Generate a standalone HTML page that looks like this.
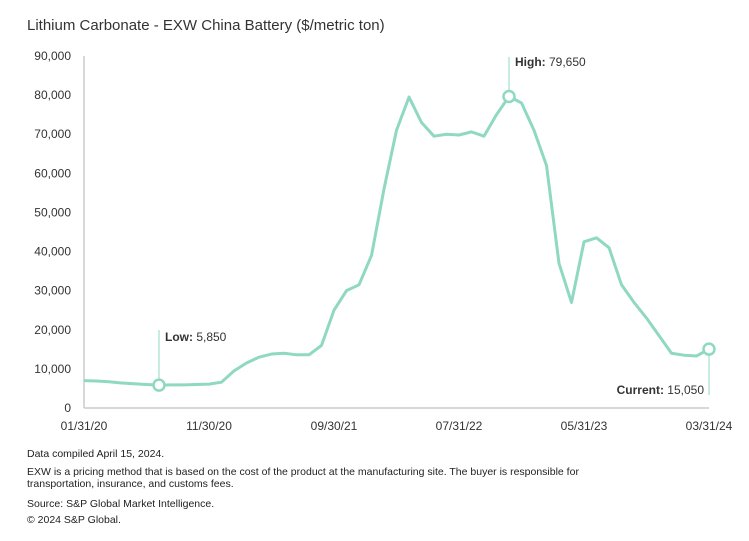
<!DOCTYPE html>
<html><head><meta charset="utf-8"><style>
body{margin:0;background:#fff;font-family:"Liberation Sans",sans-serif;color:#222}
#wrap{position:relative;width:749px;height:541px;overflow:hidden}
.title{position:absolute;left:27px;top:17px;font-size:15px;color:#333}
.foot{position:absolute;left:27px;font-size:10.5px;color:#222;line-height:12px}
</style></head><body><div id="wrap">
<div class="title">Lithium Carbonate - EXW China Battery ($/metric ton)</div>
<svg id="c" width="749" height="541" style="position:absolute;left:0;top:0"></svg>
<div class="foot" style="top:448px">Data compiled April 15, 2024.</div>
<div class="foot" style="top:466px">EXW is a pricing method that is based on the cost of the product at the manufacturing site. The buyer is responsible for<br>transportation, insurance, and customs fees.</div>
<div class="foot" style="top:498px">Source: S&amp;P Global Market Intelligence.</div>
<div class="foot" style="top:514px">© 2024 S&amp;P Global.</div>
</div>
<script>
const prices=[7000,6900,6700,6400,6200,6000,5850,5900,5900,6000,6100,6600,9500,11500,13000,13800,14000,13600,13600,16000,25000,30000,31500,39000,56000,71000,79500,73000,69500,70000,69800,70600,69500,75000,79650,78000,71000,62000,37000,27000,42500,43500,41000,31500,27000,23000,18500,14000,13500,13300,15050];
const yTicks=[0,10000,20000,30000,40000,50000,60000,70000,80000,90000];
const xTickIdx=[0,10,20,30,40,50];
const xTickLabels=["01/31/20","11/30/20","09/30/21","07/31/22","05/31/23","03/31/24"];
const annotations=[{i:6,label:"Low:",val:"5,850"},{i:34,label:"High:",val:"79,650"},{i:50,label:"Current:",val:"15,050"}];
const NS="http://www.w3.org/2000/svg",svg=document.getElementById('c');
const X0=84,X1=709,Y0=408,Y1=56;
const x=i=>X0+(X1-X0)*i/(prices.length-1);
const y=v=>Y0-(Y0-Y1)*v/90000;
function el(t,a,txt){const e=document.createElementNS(NS,t);for(const k in a)e.setAttribute(k,a[k]);if(txt!=null)e.textContent=txt;svg.appendChild(e);return e;}
let e=el('line',{x1:X0,y1:Y1,x2:X0,y2:Y0,stroke:'#ccc','stroke-width':1.5});

e=el('line',{x1:X0,y1:Y0,x2:X1,y2:Y0,stroke:'#ccc','stroke-width':1.5});

yTicks.forEach(v=>{const t=el('text',{x:71,y:y(v)+4,'text-anchor':'end','font-size':12,fill:'#333'},v.toLocaleString('en-US'));
});
xTickIdx.forEach((i,k)=>{const t=el('text',{x:x(i),y:430,'text-anchor':'middle','font-size':12,fill:'#333'},xTickLabels[k]);
});
const p=el('polyline',{points:prices.map((v,i)=>x(i)+','+y(v)).join(' '),fill:'none',stroke:'#8fd8c2','stroke-width':3,'stroke-linejoin':'round'});

annotations.forEach(a=>{const cx=x(a.i),cy=y(prices[a.i]);let ly,ty,tx,anchor;
 if(a.label==="Low:"){ly=330;ty=341;tx=cx+6;anchor='start';el('line',{x1:cx,y1:ly,x2:cx,y2:cy,stroke:'#8fd8c2','stroke-width':1});}
 else if(a.label==="High:"){ly=57;ty=66;tx=cx+6;anchor='start';el('line',{x1:cx,y1:ly,x2:cx,y2:cy,stroke:'#8fd8c2','stroke-width':1});}
 else{ly=395;ty=394;tx=cx-5;anchor='end';el('line',{x1:cx,y1:cy,x2:cx,y2:ly,stroke:'#8fd8c2','stroke-width':1});}
 const m=el('circle',{cx:cx,cy:cy,r:5.5,fill:'#fff',stroke:'#8fd8c2','stroke-width':2.5});
 
 const t=el('text',{x:tx,y:ty,'text-anchor':anchor,'font-size':12,fill:'#333'});
 
 const b=document.createElementNS(NS,'tspan');b.setAttribute('font-weight','bold');b.textContent=a.label+' ';t.appendChild(b);
 const n=document.createElementNS(NS,'tspan');n.textContent=a.val;t.appendChild(n);});
</script></body></html>
